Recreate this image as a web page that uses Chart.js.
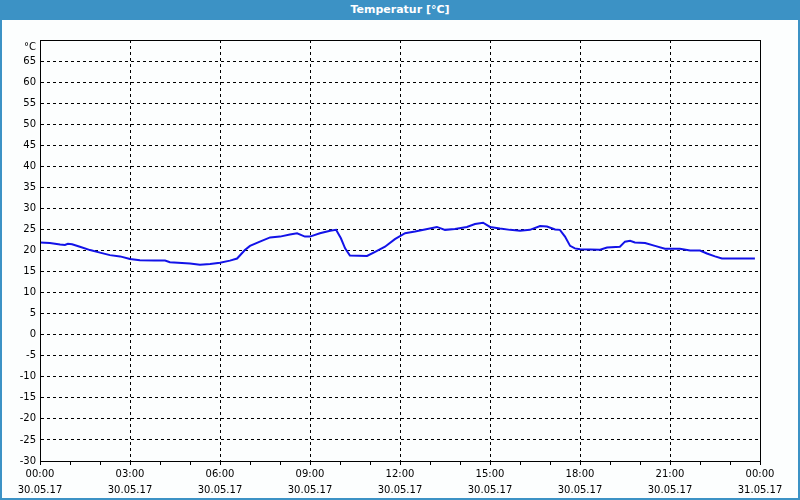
<!DOCTYPE html>
<html>
<head>
<meta charset="utf-8">
<script src="https://cdn.jsdelivr.net/npm/chart.js@4/dist/chart.umd.min.js"></script>
<style>
  html, body { margin: 0; padding: 0; background: #fcfefe; }
  #wrap { position: relative; width: 800px; height: 500px; overflow: hidden; }
  #chart { position: absolute; left: 0; top: 0; }
  #title {
    position: absolute; left: 0; top: 0; width: 800px; height: 20px;
    background: #3c92c5; color: #fff; text-align: center;
    font: bold 11px "DejaVu Sans", sans-serif; line-height: 20px;
  }
  #frame {
    position: absolute; left: 0; top: 20px; width: 796px; height: 478px;
    border: 2px solid #3c92c5; border-top: none; pointer-events: none;
  }
</style>
</head>
<body>
<div id="wrap">
  <canvas id="chart" width="800" height="500"></canvas>
  <div id="title">Temperatur [°C]</div>
  <div id="frame"></div>
</div>
<script>
// hours since 30.05.17 00:00
const hours = [
  0.00, 0.33, 0.67, 0.83, 0.93, 1.07, 1.33, 1.67, 2.00, 2.33, 2.67, 3.00,
  3.33, 3.83, 4.17, 4.33, 5.00, 5.33, 5.67, 6.00, 6.33, 6.57, 6.83, 7.00,
  7.33, 7.67, 8.00, 8.33, 8.57, 8.83, 9.00, 9.33, 9.67, 9.87, 10.03, 10.17,
  10.33, 10.90, 11.17, 11.50, 11.83, 12.17, 12.50, 12.83, 13.23, 13.50, 13.83, 14.23,
  14.50, 14.77, 15.00, 15.33, 15.67, 16.00, 16.33, 16.67, 16.90, 17.17, 17.33, 17.50,
  17.67, 17.83, 18.00, 18.67, 18.90, 19.33, 19.50, 19.67, 19.83, 20.17, 20.50, 20.83,
  21.33, 21.67, 22.00, 22.23, 22.50, 22.73, 23.83
];
const temps = [
  21.9, 21.8, 21.4, 21.3, 21.6, 21.5, 20.9, 20.1, 19.5, 18.9, 18.6, 18.0,
  17.7, 17.6, 17.6, 17.2, 16.9, 16.6, 16.8, 17.1, 17.6, 18.1, 20.1, 21.1,
  22.1, 23.1, 23.3, 23.8, 24.1, 23.3, 23.3, 24.1, 24.7, 24.9, 22.9, 20.5,
  18.8, 18.7, 19.7, 20.9, 22.7, 24.1, 24.5, 25.0, 25.6, 24.9, 25.1, 25.6,
  26.3, 26.6, 25.6, 25.2, 24.9, 24.7, 24.9, 25.8, 25.7, 25.0, 24.9, 23.3,
  21.1, 20.5, 20.3, 20.2, 20.7, 20.9, 22.1, 22.3, 21.9, 21.8, 21.1, 20.4,
  20.4, 20.0, 20.0, 19.3, 18.6, 18.1, 18.1
];
const timeLabels = ["00:00", "03:00", "06:00", "09:00", "12:00", "15:00", "18:00", "21:00", "00:00"];
const dateLabels = ["30.05.17", "30.05.17", "30.05.17", "30.05.17", "30.05.17", "30.05.17", "30.05.17", "30.05.17", "31.05.17"];
const yUnit = "°C";

const points = hours.map((h, i) => ({ x: h, y: temps[i] }));

const boxPlugin = {
  id: "box",
  afterDraw(chart) {
    const a = chart.chartArea;
    const ctx = chart.ctx;
    ctx.save();
    ctx.strokeStyle = "#000";
    ctx.lineWidth = 1;
    ctx.strokeRect(Math.round(a.left) + 0.5, Math.round(a.top) + 0.5,
      Math.round(a.right - a.left), Math.round(a.bottom - a.top));
    ctx.restore();
  },
};

const ctx = document.getElementById("chart").getContext("2d");
const chart = new Chart(ctx, {
  type: "line",
  data: {
    datasets: [
      {
        data: points,
        borderColor: "#1212e8",
        borderWidth: 2,
        pointRadius: 0,
        tension: 0,
        fill: false,
      },
    ],
  },
  options: {
    responsive: false,
    animation: false,
    layout: { padding: { left: 0, top: 40, right: 40, bottom: 0 } },
    plugins: { legend: { display: false }, tooltip: { enabled: false } },
    scales: {
      x: {
        type: "linear",
        min: 0,
        max: 24,
        afterFit: (s) => { s.height = 39; },
        ticks: {
          stepSize: 1,
          autoSkip: false,
          maxRotation: 0,
          padding: 2,
          color: "#000",
          font: { family: "DejaVu Sans", size: 10, lineHeight: 1.55 },
          callback: (v) => (v % 3 === 0 ? [timeLabels[v / 3], dateLabels[v / 3]] : ""),
        },
        grid: {
          color: (c) => (c.tick && c.tick.value % 3 === 0 ? "#000" : "rgba(0,0,0,0)"),
          tickColor: "#000",
          tickLength: 4,
          tickBorderDash: [],
        },
        border: { color: "#000", dash: [3, 3] },
      },
      y: {
        min: -30,
        max: 70,
        afterFit: (s) => { s.width = 40; },
        ticks: {
          stepSize: 5,
          autoSkip: false,
          padding: 4,
          color: "#000",
          font: { family: "DejaVu Sans", size: 10, lineHeight: 1.5 },
          callback: (v) => (v === 70 ? ["", yUnit] : v),
        },
        grid: { color: "#000", drawTicks: false },
        border: { color: "#000", dash: [3, 3] },
      },
    },
  },
  plugins: [boxPlugin],
});
</script>
</body>
</html>
